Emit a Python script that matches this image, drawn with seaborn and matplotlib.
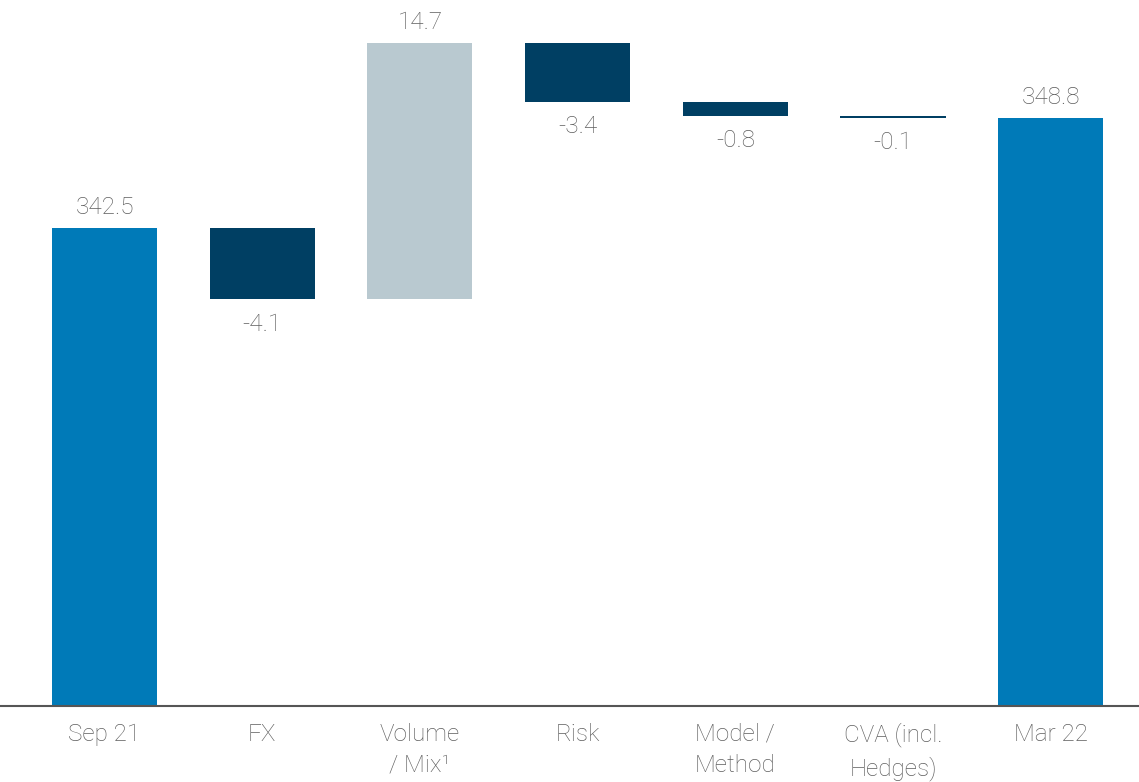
import matplotlib
matplotlib.use("Agg")
import matplotlib.pyplot as plt
import seaborn as sns
import numpy as np
import pandas as pd

# Waterfall: start value, changes, end value
categories = ["Sep 21", "FX", "Volume\n/ Mix¹", "Risk", "Model /\nMethod", "CVA (incl.\nHedges)", "Mar 22"]
start_value = 342.5
changes = [-4.1, 14.7, -3.4, -0.8, -0.1]
end_value = 348.8
labels = ["342.5", "-4.1", "14.7", "-3.4", "-0.8", "-0.1", "348.8"]

baseline = 315.1

# Bar geometry derived from the running total
running = start_value
bottoms = [baseline]
heights = [start_value - baseline]
for c in changes:
    bottoms.append(running)
    heights.append(c)
    running += c
bottoms.append(baseline)
heights.append(end_value - baseline)

colors = ["#007AB8", "#003F63", "#B9C9D0", "#003F63", "#003F63", "#003F63", "#007AB8"]

df = pd.DataFrame({"category": categories, "height": heights})

sns.set_theme(style="white")
plt.rcParams["font.family"] = ["Roboto", "DejaVu Sans"]
text_color = "#5E5E5E"

fig = plt.figure(figsize=(11.39, 7.82), dpi=100)
ax = fig.add_axes([0, 76 / 782, 1, 706 / 782])

sns.barplot(data=df, x="category", y="height", bottom=bottoms, width=0.666,
            ax=ax, errorbar=None, linewidth=0, color=colors[0], saturation=1)
for patch, col in zip(ax.patches, colors):
    patch.set_facecolor(col)
    patch.set_edgecolor("none")

ax.set_xlim(-0.663, 6.56)
ax.set_ylim(baseline, baseline + 706 / 17.45)

# Value labels: above rising bars, below falling ones
for i, (b, h, lab) in enumerate(zip(bottoms, heights, labels)):
    if h >= 0:
        ax.annotate(lab, xy=(i, b + h), xytext=(0, 6.5), textcoords="offset points",
                    ha="center", va="bottom", fontsize=17.5, color=text_color,
                    fontweight="light")
    else:
        ax.annotate(lab, xy=(i, b + h), xytext=(0, -9.5), textcoords="offset points",
                    ha="center", va="top", fontsize=17.5, color=text_color,
                    fontweight="light")

ax.set_xlabel("")
ax.set_ylabel("")
ax.set_yticks([])
ax.tick_params(axis="x", length=0, pad=12, labelsize=17.5, labelcolor=text_color)
for t in ax.get_xticklabels():
    t.set_fontweight("light")
    t.set_linespacing(1.45)

for side in ["top", "right", "left"]:
    ax.spines[side].set_visible(False)
ax.spines["bottom"].set_color("#555555")
ax.spines["bottom"].set_linewidth(1.5)

fig.savefig("out.png", dpi=100, facecolor="white")
